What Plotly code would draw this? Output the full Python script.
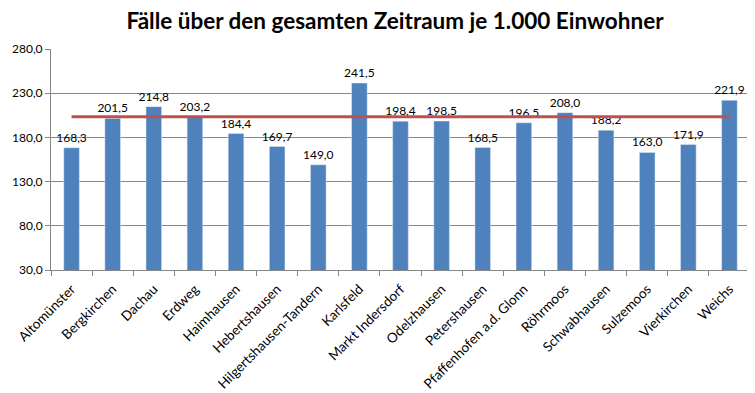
import plotly.graph_objects as go

categories = ["Altomünster", "Bergkirchen", "Dachau", "Erdweg", "Haimhausen", "Hebertshausen",
              "Hilgertshausen-Tandern", "Karlsfeld", "Markt Indersdorf", "Odelzhausen", "Petershausen",
              "Pfaffenhofen a.d. Glonn", "Röhrmoos", "Schwabhausen", "Sulzemoos", "Vierkirchen", "Weichs"]
values = [168.3, 201.5, 214.8, 203.2, 184.4, 169.7, 149.0, 241.5, 198.4, 198.5, 168.5,
          196.5, 208.0, 188.2, 163.0, 171.9, 221.9]
average = [203.4] * len(categories)
y_ticks = [30, 80, 130, 180, 230, 280]

font = "Lato, 'Open Sans', sans-serif"

fig = go.Figure()
fig.add_trace(go.Bar(
    x=categories, y=values, marker_color="#4F81BD", width=0.38,
    text=[f"{v:.1f}".replace(".", ",") for v in values], textposition="outside",
    constraintext="none",
    textfont=dict(size=12, color="black", family=font), cliponaxis=False,
    showlegend=False,
))
fig.add_trace(go.Scatter(
    x=categories, y=average, mode="lines", line=dict(color="#C0504D", width=3),
    showlegend=False,
))
fig.update_layout(
    width=755, height=393,
    margin=dict(l=43, r=13, t=41, b=131, autoexpand=False),
    paper_bgcolor="white", plot_bgcolor="white",
    separators=",.",
    title=dict(text="<b>Fälle über den gesamten Zeitraum je 1.000 Einwohner</b>",
               x=0.5126, xanchor="center", y=0.966, yanchor="middle",
               font=dict(size=22.5, color="black", family=font)),
    font=dict(family=font, size=12, color="black"),
    bargap=0.6,
)
fig.update_xaxes(
    tickangle=-45, tickson="boundaries", ticks="outside", ticklen=5, tickcolor="#868686",
    showline=True, linecolor="#868686", linewidth=1, showgrid=False, automargin=False,
    ticklabelstandoff=5,
    tickfont=dict(size=13.5, color="black", family=font),
)
fig.update_yaxes(
    range=[30, 280], tickvals=y_ticks, tickformat=".1f", ticks="outside", ticklen=5,
    tickcolor="#868686", showline=True, linecolor="#868686", linewidth=1,
    showgrid=True, gridcolor="#868686", gridwidth=1, zeroline=False, automargin=False,
    tickfont=dict(size=12, color="black", family=font),
)
fig.write_html("out.html")
